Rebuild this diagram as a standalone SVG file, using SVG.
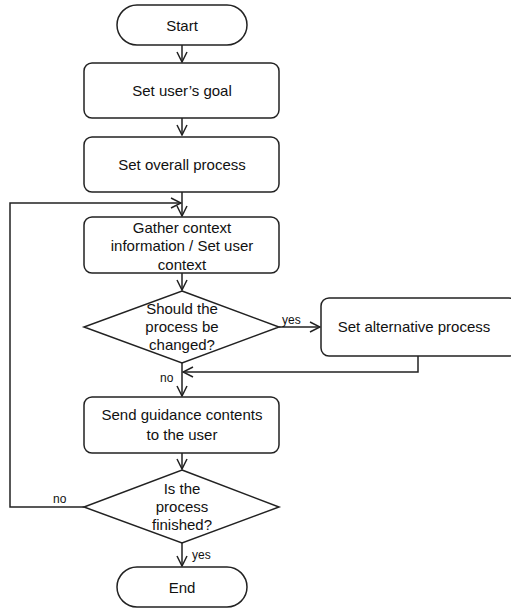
<svg xmlns="http://www.w3.org/2000/svg" width="511" height="609" viewBox="0 0 511 609">
<style>
.n{fill:#fff;stroke:#222;stroke-width:1.5}
.c{fill:none;stroke:#222;stroke-width:1.5}
text{font-family:"Liberation Sans",Arial,sans-serif;font-size:15px;fill:#111;text-anchor:middle}
.l{font-size:12px;text-anchor:start}
</style>
<defs>
<marker id="a" viewBox="0 0 12 12" refX="11" refY="6" markerWidth="12" markerHeight="12" markerUnits="userSpaceOnUse" orient="auto">
<path d="M1,1 L11,6 L1,11" fill="none" stroke="#222" stroke-width="1.5"/>
</marker>
</defs>
<rect width="511" height="609" fill="#fff"/>
<g id="connectors">
<path class="c" d="M182,45 V62" marker-end="url(#a)"/>
<path class="c" d="M182,118 V135" marker-end="url(#a)"/>
<path class="c" d="M182,192 V216" marker-end="url(#a)"/>
<path class="c" d="M182,273 V290" marker-end="url(#a)"/>
<path class="c" d="M182,363 V396" marker-end="url(#a)"/>
<path class="c" d="M182,453 V469" marker-end="url(#a)"/>
<path class="c" d="M182,543 V566" marker-end="url(#a)"/>
<path class="c" d="M279,327 H320" marker-end="url(#a)"/>
<path class="c" d="M418,356 V372 H183" marker-end="url(#a)"/>
<path class="c" d="M84,507 H10 V203 H181" marker-end="url(#a)"/>
<text class="l" x="282" y="324">yes</text>
<text class="l" x="160" y="382">no</text>
<text class="l" x="53" y="503">no</text>
<text class="l" x="192" y="559">yes</text>
</g>
<g id="start"><rect class="n" x="117" y="5" width="130" height="40" rx="20"/><text x="182" y="31">Start</text></g>
<g id="goal"><rect class="n" x="84" y="63" width="195" height="55" rx="8"/><text x="182" y="96">Set user’s goal</text></g>
<g id="overall"><rect class="n" x="84" y="137" width="195" height="55" rx="8"/><text x="182" y="170">Set overall process</text></g>
<g id="gather"><rect class="n" x="84" y="217" width="195" height="56" rx="8"/><text x="182" y="233">Gather context</text><text x="182" y="251">information / Set user</text><text x="182" y="270">context</text></g>
<g id="change"><polygon class="n" points="182,291 279,327 182,363 84,327"/><text x="182" y="314">Should the</text><text x="182" y="332">process be</text><text x="182" y="350">changed?</text></g>
<g id="alt"><rect class="n" x="321" y="298" width="196" height="58" rx="8"/><text x="414" y="332">Set alternative process</text></g>
<g id="send"><rect class="n" x="84" y="397" width="195" height="56" rx="8"/><text x="182" y="420">Send guidance contents</text><text x="182" y="440">to the user</text></g>
<g id="finished"><polygon class="n" points="182,470 279,507 182,543 84,507"/><text x="182" y="494">Is the</text><text x="182" y="512">process</text><text x="182" y="530">finished?</text></g>
<g id="end"><rect class="n" x="117" y="567" width="130" height="40" rx="20"/><text x="182" y="593">End</text></g>
</svg>
